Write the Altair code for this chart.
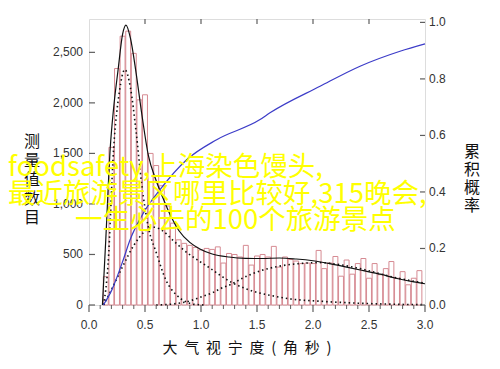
import altair as alt
import pandas as pd

# ---------------- data ----------------
bin_centers = [0.15, 0.20, 0.25, 0.30, 0.35, 0.40, 0.45, 0.50, 0.55, 0.60,
               0.65, 0.70, 0.75, 0.80, 0.85, 0.90, 0.95, 1.00, 1.05, 1.10,
               1.15, 1.20, 1.25, 1.30, 1.35, 1.40, 1.45, 1.50, 1.55, 1.60,
               1.65, 1.70, 1.75, 1.80, 1.85, 1.90, 1.95, 2.00, 2.05, 2.10,
               2.15, 2.20, 2.25, 2.30, 2.35, 2.40, 2.45, 2.50, 2.55, 2.60,
               2.65, 2.70, 2.75, 2.80, 2.85, 2.90, 2.95]
counts = [280, 1560, 2340, 2660, 2710, 2490, 2030, 2080, 1500, 1380,
          1180, 980, 810, 645, 610, 590, 570, 545, 560, 550,
          575, 415, 510, 500, 475, 590, 395, 485, 500, 475,
          580, 375, 475, 450, 435, 410, 415, 410, 540, 360,
          415, 480, 285, 445, 305, 410, 460, 265, 410, 300,
          360, 430, 265, 330, 200, 265, 340]

fit_x = [0.12, 0.15, 0.19, 0.22, 0.26, 0.30, 0.33, 0.37, 0.42, 0.47, 0.53,
         0.60, 0.66, 0.73, 0.80, 0.90, 0.99, 1.10, 1.25, 1.40, 1.55, 1.70,
         1.85, 2.00, 2.15, 2.30, 2.45, 2.60, 2.75, 2.90, 3.00]
fit_y = [0, 650, 1560, 1950, 2330, 2680, 2770, 2640, 2300, 1900, 1480,
         1230, 1060, 880, 740, 620, 555, 505, 475, 462, 460, 465,
         455, 438, 410, 375, 340, 305, 262, 228, 210]

comp1_x = [0.13, 0.17, 0.22, 0.27, 0.32, 0.37, 0.42, 0.47, 0.53, 0.60,
           0.69, 0.78, 0.87, 0.95, 1.05]
comp1_y = [0, 400, 1550, 2100, 2330, 2150, 1720, 1200, 770, 520,
           240, 100, 30, 5, 0]

comp2_x = [0.13, 0.20, 0.30, 0.40, 0.50, 0.58, 0.65, 0.75, 0.85, 0.99,
           1.08, 1.17, 1.27, 1.38, 1.50, 1.62, 1.80, 2.10, 2.40, 2.70, 3.00]
comp2_y = [0, 150, 380, 590, 730, 770, 740, 640, 540, 430,
           365, 295, 225, 170, 125, 95, 60, 35, 18, 8, 3]

comp3_x = [0.60, 0.75, 0.90, 0.99, 1.11, 1.17, 1.28, 1.37, 1.46, 1.55,
           1.73, 1.88, 2.06, 2.20, 2.42, 2.72, 3.00]
comp3_y = [0, 10, 40, 75, 125, 160, 210, 265, 310, 345,
           390, 410, 420, 405, 360, 275, 215]

cum_x = [0.128, 0.20, 0.306, 0.366, 0.485, 0.634, 0.872, 1.14, 1.527,
         1.616, 2.063, 2.42, 2.777, 3.0]
cum_y = [0, 0.05, 0.16, 0.23, 0.325, 0.408, 0.514, 0.585, 0.656,
         0.68, 0.774, 0.845, 0.898, 0.924]

x_major = [0.0, 0.5, 1.0, 1.5, 2.0, 2.5, 3.0]
x_major_labels = ["0.0", "0.5", "1.0", "1.5", "2.0", "2.5", "3.0"]
x_minor = [0.1, 0.2, 0.3, 0.4, 0.6, 0.7, 0.8, 0.9, 1.1, 1.2, 1.3, 1.4,
           1.6, 1.7, 1.8, 1.9, 2.1, 2.2, 2.3, 2.4, 2.6, 2.7, 2.8, 2.9]
x_top = [0.5, 1.0, 1.5, 2.0, 2.5]
y_left_ticks = [0, 500, 1000, 1500, 2000, 2500]
y_left_labels = ["0", "500", "1,000", "1,500", "2,000", "2,500"]
y_right_ticks = [0.0, 0.2, 0.4, 0.6, 0.8, 1.0]
y_right_labels = ["0.0", "0.2", "0.4", "0.6", "0.8", "1.0"]

x_title = "\u00a0\u00a0".join(["大", "气", "视", "宁", "度", "(", "角", "秒", ")"])
y_left_title = "测\n量\n值\n数\n目"
y_right_title = "累\n积\n概\n率"
overlay_lines = ["foodsafety,上海染色馒头,",
                 "最近旅游景区哪里比较好,315晚会,",
                 "一生必去的100个旅游景点"]

# ---------------- styling ----------------
W, H = 336, 286
AX = "#5e5e5e"
PINK = "#d68a92"
CJK = "Noto Sans CJK SC"
LAT = "Liberation Sans"
HALF = 0.022

xs = alt.Scale(domain=[0, 3], nice=False, zero=False)
yl = alt.Scale(domain=[0, 2830], nice=False)
yr = alt.Scale(domain=[0, 1.012], nice=False)

# ---------------- left (counts) group ----------------
df_bars = pd.DataFrame({
    "x0": [c - HALF for c in bin_centers],
    "x1": [c + HALF for c in bin_centers],
    "count": counts,
})
bars = alt.Chart(df_bars).mark_rect(fill="white", stroke=PINK, strokeWidth=1).encode(
    x=alt.X("x0:Q", scale=xs, axis=None),
    x2="x1:Q",
    y=alt.Y("count:Q", scale=yl, axis=None),
    y2=alt.datum(0),
)


def curve(xv, yv, **mk):
    df = pd.DataFrame({"x": xv, "y": yv})
    return alt.Chart(df).mark_line(interpolate="monotone", **mk).encode(
        x=alt.X("x:Q", scale=xs, axis=None),
        y=alt.Y("y:Q", scale=yl, axis=None),
    )


dots = dict(color="#111", strokeWidth=1.6, strokeDash=[1.5, 3])
c1 = curve(comp1_x, comp1_y, **dots)
c2 = curve(comp2_x, comp2_y, **dots)
c3 = curve(comp3_x, comp3_y, **dots)
fit = curve(fit_x, fit_y, color="#111", strokeWidth=1.2)

left_ticks = alt.Chart(pd.DataFrame({"v": y_left_ticks})).mark_rule(
    color=AX, strokeWidth=1.2).encode(
    y=alt.Y("v:Q", scale=yl, axis=None), x=alt.value(0), x2=alt.value(6))
left_labels = alt.Chart(pd.DataFrame({"v": y_left_ticks, "lab": y_left_labels})).mark_text(
    align="right", baseline="middle", font=LAT, fontSize=12, color="#333").encode(
    y=alt.Y("v:Q", scale=yl, axis=None), x=alt.value(-6), text="lab:N")
top_ticks = alt.Chart(pd.DataFrame({"v": x_top})).mark_rule(
    color=AX, strokeWidth=1.2).encode(
    x=alt.X("v:Q", scale=xs, axis=None), y=alt.value(0), y2=alt.value(5))
bot_major = alt.Chart(pd.DataFrame({"v": x_major})).mark_rule(
    color=AX, strokeWidth=1.2).encode(
    x=alt.X("v:Q", scale=xs, axis=None), y=alt.value(H), y2=alt.value(H + 7))
bot_minor = alt.Chart(pd.DataFrame({"v": x_minor})).mark_rule(
    color=AX, strokeWidth=1).encode(
    x=alt.X("v:Q", scale=xs, axis=None), y=alt.value(H), y2=alt.value(H + 4))
bot_labels = alt.Chart(pd.DataFrame({"v": x_major, "lab": x_major_labels})).mark_text(
    align="center", baseline="middle", font=LAT, fontSize=12, color="#333").encode(
    x=alt.X("v:Q", scale=xs, axis=None), y=alt.value(H + 20), text="lab:N")

left_group = alt.layer(bars, c1, c2, c3, fit, left_ticks, left_labels,
                       top_ticks, bot_major, bot_minor, bot_labels)

# ---------------- right (cumulative) group ----------------
cum = alt.Chart(pd.DataFrame({"x": cum_x, "y": cum_y})).mark_line(
    color="#3c3cc8", strokeWidth=1.2, interpolate="monotone").encode(
    x=alt.X("x:Q", scale=xs, axis=None),
    y=alt.Y("y:Q", scale=yr, axis=None),
)
right_ticks = alt.Chart(pd.DataFrame({"v": y_right_ticks})).mark_rule(
    color=AX, strokeWidth=1.2).encode(
    y=alt.Y("v:Q", scale=yr, axis=None), x=alt.value(W - 5), x2=alt.value(W))
right_labels = alt.Chart(pd.DataFrame({"v": y_right_ticks, "lab": y_right_labels})).mark_text(
    align="left", baseline="middle", font=LAT, fontSize=12, color="#333").encode(
    y=alt.Y("v:Q", scale=yr, axis=None), x=alt.value(W + 4), text="lab:N")
right_group = alt.layer(cum, right_ticks, right_labels)


# ---------------- titles & overlay text ----------------
def text_at(txt, x, y, **mk):
    return alt.Chart(pd.DataFrame({"t": [txt]})).mark_text(**mk).encode(
        text="t:N", x=alt.value(x), y=alt.value(y))


tx = text_at(x_title, 158, H + 43, font=CJK, fontSize=15, color="#111",
             align="center", baseline="middle")
tyl = text_at(y_left_title, -57, 123, font=CJK, fontSize=16, color="#111",
              align="center", baseline="middle", lineBreak="\n", lineHeight=19)
tyr = text_at(y_right_title, W + 47, 133, font=CJK, fontSize=16, color="#111",
              align="center", baseline="middle", lineBreak="\n", lineHeight=18)

ov = dict(align="left", baseline="middle", font=CJK, fontSize=27.5,
          color="#ffff00")
t1 = text_at(overlay_lines[0], -81, 149, **ov)
t2 = text_at(overlay_lines[1], -81, 176, **ov)
t3 = text_at(overlay_lines[2], -14, 202, **ov)

chart = alt.layer(left_group, right_group, tx, tyl, tyr, t1, t2, t3).resolve_scale(
    y="independent"
).properties(
    width=W, height=H,
    autosize=alt.AutoSizeParams(type="none"),
    padding={"left": 81, "top": 11, "right": 67, "bottom": 60},
).configure_view(
    stroke=AX, strokeWidth=1.6
).configure(background="white")

chart.save("out.html", embed_options={"renderer": "svg", "actions": False})
